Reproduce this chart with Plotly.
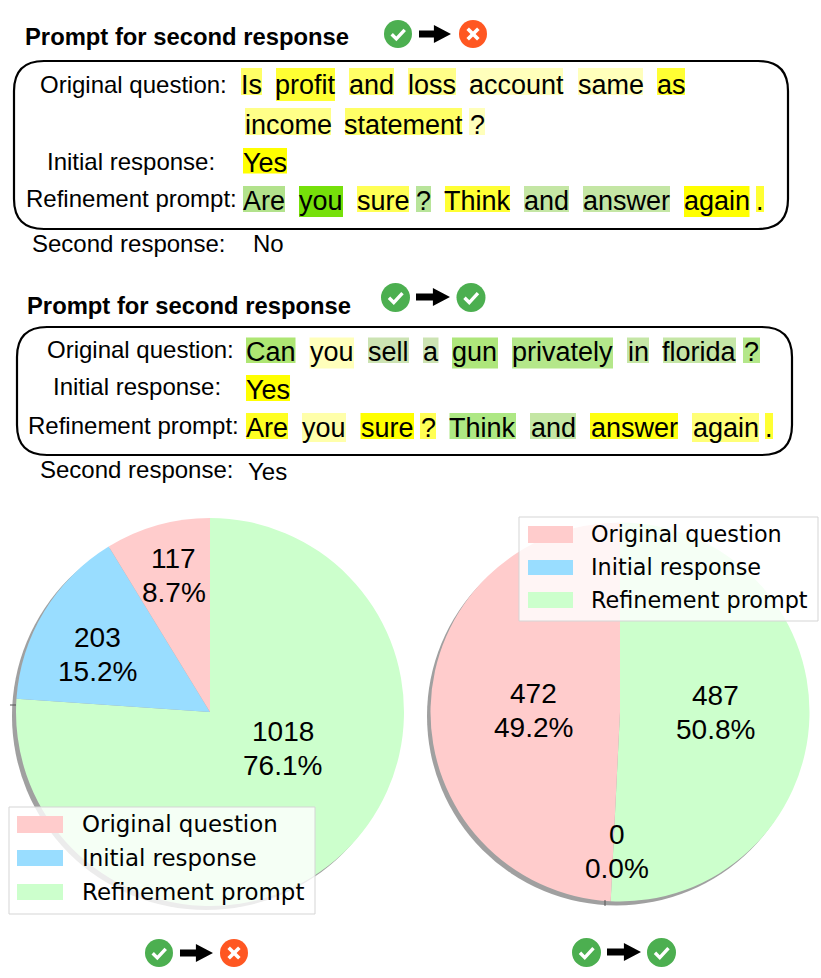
import plotly.graph_objects as go

W, H = 821, 978

# pie data
slice_names = ["Original question", "Initial response", "Refinement prompt"]
slice_colors = ["#ffcccc", "#99ddff", "#ccffcc"]
flip_counts = [117, 203, 1018]
keep_counts = [472, 0, 487]

# prompt texts and their highlight colours
words_a1 = ["Is", "profit", "and", "loss", "account", "same", "as"]
shade_a1 = ["#ffff66", "#ffff33", "#ffff66", "#ffff88", "#ffffbb", "#ffffbb", "#ffff33"]
words_a2 = ["income", "statement", "?"]
shade_a2 = ["#ffff88", "#ffff66", "#ffffbb"]
words_a3 = ["Yes"]
shade_a3 = ["#ffff00"]
words_a4 = ["Are", "you", "sure", "?", "Think", "and", "answer", "again", "."]
shade_a4 = ["#b2e28c", "#76e00a", "#ffff55", "#b8e49a", "#ffff33", "#c4e6a4", "#c4e6a4", "#ffff00", "#ffff33"]

words_b1 = ["Can", "you", "sell", "a", "gun", "privately", "in", "florida", "?"]
shade_b1 = ["#aee673", "#ffffbb", "#cce3b3", "#cce3b3", "#aee67b", "#b4e78a", "#c5e6a6", "#c5e6a6", "#b4e78a"]
words_b2 = ["Yes"]
shade_b2 = ["#ffff00"]
words_b3 = ["Are", "you", "sure", "?", "Think", "and", "answer", "again", "."]
shade_b3 = ["#ffff22", "#ffffaa", "#ffff00", "#ffff55", "#aee884", "#c4e6a4", "#ffff11", "#ffff77", "#ffff33"]


def px(x):
    return x / W


def py(y):
    return 1 - y / H


shapes = []
notes = []


def text(x, y, s, size=24, anchor="center", family="Liberation Sans", bold=False):
    if bold:
        s = "<b>" + s + "</b>"
    notes.append(dict(x=px(x), y=py(y), xref="paper", yref="paper", text=s, showarrow=False,
                      xanchor=anchor, yanchor="middle", borderpad=0,
                      font=dict(family=family, size=size, color="black")))


def rect(x0, y0, x1, y1, fill, line=None, layer="above"):
    shapes.append(dict(type="rect", xref="paper", yref="paper", x0=px(x0), x1=px(x1),
                       y0=py(y0), y1=py(y1), fillcolor=fill, layer=layer,
                       line=dict(width=1 if line else 0, color=line or "rgba(0,0,0,0)")))


def path(points, fill=None, color=None, width=0, close=False, layer="above"):
    d = "M " + " L ".join(f"{px(a):.5f},{py(b):.5f}" for a, b in points)
    if close:
        d += " Z"
    shapes.append(dict(type="path", xref="paper", yref="paper", path=d, layer=layer,
                       fillcolor=fill or "rgba(0,0,0,0)",
                       line=dict(width=width, color=color or "rgba(0,0,0,0)")))


def circle(cx, cy, r, fill, layer="above"):
    shapes.append(dict(type="circle", xref="paper", yref="paper", x0=px(cx - r), x1=px(cx + r),
                       y0=py(cy + r), y1=py(cy - r), fillcolor=fill, layer=layer,
                       line=dict(width=0, color="rgba(0,0,0,0)")))


def rounded(x0, y0, x1, y1, r):
    # outline box round the prompt
    d = (f"M {px(x0 + r)},{py(y0)} L {px(x1 - r)},{py(y0)} Q {px(x1)},{py(y0)} {px(x1)},{py(y0 + r)} "
         f"L {px(x1)},{py(y1 - r)} Q {px(x1)},{py(y1)} {px(x1 - r)},{py(y1)} "
         f"L {px(x0 + r)},{py(y1)} Q {px(x0)},{py(y1)} {px(x0)},{py(y1 - r)} "
         f"L {px(x0)},{py(y0 + r)} Q {px(x0)},{py(y0)} {px(x0 + r)},{py(y0)} Z")
    shapes.append(dict(type="path", xref="paper", yref="paper", path=d,
                       line=dict(width=2.2, color="black"), fillcolor="rgba(0,0,0,0)"))


def good(cx, cy, r=14):
    circle(cx, cy, r, "#4caf50")
    path([(cx - r * 0.45, cy + r * 0.02), (cx - r * 0.12, cy + r * 0.35), (cx + r * 0.48, cy - r * 0.3)],
         color="white", width=3.4)


def bad(cx, cy, r=14):
    circle(cx, cy, r, "#ff5722")
    path([(cx - r * 0.38, cy - r * 0.38), (cx + r * 0.38, cy + r * 0.38)], color="white", width=3.6)
    path([(cx - r * 0.38, cy + r * 0.38), (cx + r * 0.38, cy - r * 0.38)], color="white", width=3.6)


def arrow(x0, x1, cy, h=18):
    neck = x1 - h * 0.95
    path([(x0, cy - 3.5), (neck, cy - 3.5), (neck, cy - h / 2), (x1, cy), (neck, cy + h / 2),
          (neck, cy + 3.5), (x0, cy + 3.5)], fill="black", close=True)


def words(items, shades, boxes, y):
    for w, c, b in zip(items, shades, boxes):
        rect(b[0], b[2], b[1], b[3], c)
        text((b[0] + b[1]) / 2, y, w, size=27)


# first prompt panel
text(23.5, 36, "Prompt for second response", size=23.8, anchor="left", bold=True)
good(398, 34)
arrow(419, 451, 34)
bad(473, 34)
rounded(14, 61, 788, 229, 30)
text(133, 85, "Original question:")
text(130.5, 161.5, "Initial response:")
text(131.5, 199, "Refinement prompt:")
text(128, 243, "Second response:")
text(268.5, 243, "No")
words(words_a1, shade_a1,
      [(241, 262, 68, 95), (276, 335, 68, 101), (349, 394, 68, 95), (408, 456, 68, 95),
       (470, 563, 68, 95), (578, 643, 68, 95), (657, 685, 68, 95)], 85)
words(words_a2, shade_a2, [(245, 331, 108, 135), (345, 462, 108, 135), (469, 485, 108, 135)], 125)
words(words_a3, shade_a3, [(243, 287, 148, 173.5)], 163)
words(words_a4, shade_a4,
      [(243, 285, 186, 212), (299, 343, 186, 217), (357, 409, 186, 212), (416, 431, 186, 212),
       (445, 510, 186, 212), (524, 569, 186, 212), (583, 670, 186, 212), (684, 749.5, 186, 217),
       (756, 764, 186, 212)], 201)

# second prompt panel
text(25.5, 305, "Prompt for second response", size=23.8, anchor="left", bold=True)
good(395.5, 297.5, 14.5)
arrow(416, 450, 297)
good(471, 297.5, 14.5)
rounded(17, 327, 792, 455, 30)
text(140, 349, "Original question:")
text(136.5, 387, "Initial response:")
text(133, 426, "Refinement prompt:")
text(136, 470, "Second response:")
text(267.5, 471, "Yes")
words(words_b1, shade_b1,
      [(246, 295.5, 337.5, 363), (309.5, 354, 337.5, 368.5), (368, 409, 337.5, 363), (423, 438.5, 337.5, 363),
       (452, 498, 337.5, 368.5), (512, 613, 337.5, 368.5), (627, 649, 337.5, 363), (663, 736, 337.5, 363),
       (743, 760, 337.5, 363)], 352)
words(words_b2, shade_b2, [(246, 290, 375, 401)], 390)
words(words_b3, shade_b3,
      [(246, 288, 413, 439), (302, 346, 413, 442), (360.5, 414, 413, 439), (420, 436, 413, 439),
       (449.5, 516, 413, 439), (530, 576, 413, 439), (590, 678, 413, 439), (692, 759, 413, 442),
       (765, 773, 413, 439)], 428)


def pie(values, cx, cy, r):
    # drawn clockwise from the top, so the slices go in reverse order
    return go.Pie(labels=slice_names[::-1], values=values[::-1], sort=False, direction="clockwise",
                  rotation=0, textinfo="none", hoverinfo="skip", showlegend=False,
                  marker=dict(colors=slice_colors[::-1], line=dict(width=0)),
                  domain=dict(x=[px(cx - r), px(cx + r)], y=[py(cy + r), py(cy - r)]))


fig = go.Figure([pie(flip_counts, 210, 712, 194), pie(keep_counts, 620, 712, 189.5)])

# matplotlib style drop shadow behind each pie
circle(206, 716, 194, "#a0a0a0", layer="below")
circle(616.5, 716, 189.5, "#a0a0a0", layer="below")
path([(10, 705), (16, 705)], color="#555555", width=1)
path([(605, 900), (605, 906)], color="#555555", width=1)


def slice_text(values, spots):
    total = sum(values)
    for v, (x, y) in zip(values, spots):
        text(x, y - 17, str(v), size=28)
        text(x, y + 17, f"{v / total * 100:.1f}%", size=28)


slice_text(flip_counts, [(173.5, 575), (97.5, 654), (282.5, 748)])
slice_text(keep_counts, [(533, 710), (617, 851), (715, 712)])


def legend_box(x0, y0, x1, y1, patch_x, patch_ys, text_x, text_ys, size):
    rect(x0, y0, x1, y1, "rgba(255,255,255,0.8)", line="#d5d5d5")
    for n, c, (a, b), ty in zip(slice_names, slice_colors, patch_ys, text_ys):
        rect(patch_x[0], a, patch_x[1], b, c)
        text(text_x, ty, n, size=size, anchor="left", family="DejaVu Sans")


legend_box(9, 807, 315, 914, (17, 63), [(816, 833), (850, 866), (884, 900)], 80.5, [824, 858, 892], 22.9)
legend_box(519, 517, 818, 621, (528, 573), [(526, 543), (560, 575), (592, 608)], 590, [534, 567, 600], 22.3)

# verdict icons under the pies
good(159, 953)
arrow(180, 213, 953)
bad(234, 953)
good(586.5, 952.5, 14.5)
arrow(607, 641, 952)
good(661.5, 952.5, 14.5)

fig.update_layout(width=W, height=H, margin=dict(l=0, r=0, t=0, b=0), paper_bgcolor="white",
                  plot_bgcolor="white", shapes=shapes, annotations=notes)

fig.write_html("out.html", post_script="document.body.style.margin='0';",
               config={"displayModeBar": False})
